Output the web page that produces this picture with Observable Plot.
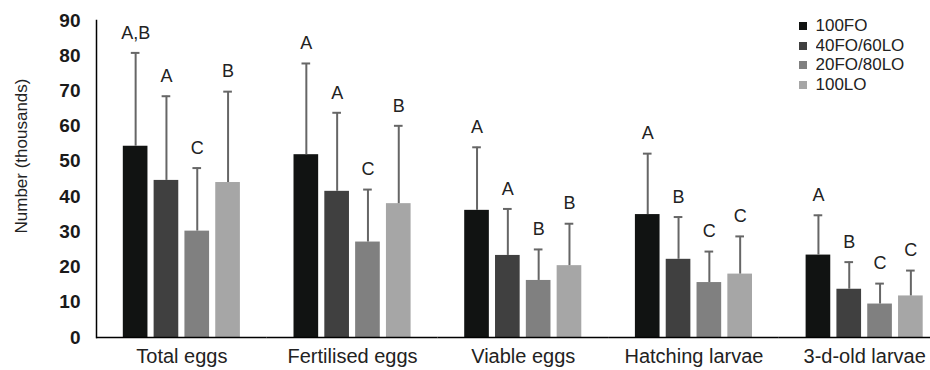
<!DOCTYPE html>
<html>
<head>
<meta charset="utf-8">
<script src="https://cdn.jsdelivr.net/npm/d3@7"></script>
<script src="https://cdn.jsdelivr.net/npm/@observablehq/plot@0.6"></script>
<style>
  html, body { margin: 0; padding: 0; background: #fff; }
  #wrap { position: relative; width: 930px; height: 370px; font-family: "Liberation Sans", Arial, sans-serif; }
  #legend { position: absolute; left: 799px; top: 17px; }
</style>
</head>
<body>
<div id="wrap"><div id="legend"></div></div>
<script>
const groups = ["Total eggs", "Fertilised eggs", "Viable eggs", "Hatching larvae", "3-d-old larvae"];
const series = ["100FO", "40FO/60LO", "20FO/80LO", "100LO"];
const colors = ["#111312", "#404040", "#808080", "#a6a6a6"];

// means (thousands), one array per series, in group order
const mean100FO = [54.3, 51.9, 36.1, 34.9, 23.4];
const mean40FO60LO = [44.6, 41.5, 23.3, 22.2, 13.7];
const mean20FO80LO = [30.2, 27.1, 16.2, 15.6, 9.5];
const mean100LO = [44.0, 38.0, 20.4, 18.0, 11.8];

// standard deviations (upper error bars)
const sd100FO = [26.5, 25.9, 17.9, 17.3, 11.3];
const sd40FO60LO = [23.9, 22.3, 13.2, 12.0, 7.7];
const sd20FO80LO = [17.9, 14.9, 8.8, 8.8, 5.8];
const sd100LO = [25.8, 22.1, 11.9, 10.7, 7.2];

// significance letters
const let100FO = ["A,B", "A", "A", "A", "A"];
const let40FO60LO = ["A", "A", "A", "B", "B"];
const let20FO80LO = ["C", "C", "B", "C", "C"];
const let100LO = ["B", "B", "B", "C", "C"];

const means = [mean100FO, mean40FO60LO, mean20FO80LO, mean100LO];
const sds = [sd100FO, sd40FO60LO, sd20FO80LO, sd100LO];
const letters = [let100FO, let40FO60LO, let20FO80LO, let100LO];

const data = [];
groups.forEach((g, gi) => {
  series.forEach((s, si) => {
    const m = means[si][gi];
    data.push({group: g, series: s, mean: m, top: m + sds[si][gi], letter: letters[si][gi]});
  });
});

const font = "'Liberation Sans', Arial, sans-serif";

const chart = Plot.plot({
  width: 930,
  height: 370,
  marginLeft: 96,
  marginRight: 0,
  marginTop: 20,
  marginBottom: 33,
  style: {fontFamily: font, background: "white", color: "#222"},
  fx: {domain: groups, range: [96, 949.5], padding: 0, round: false, label: null},
  x: {domain: series, paddingInner: 0.2, paddingOuter: 0.87, round: false, axis: null},
  y: {domain: [0, 90], label: null},
  color: {domain: series, range: colors},
  marks: [
    Plot.axisY({ticks: [0,10,20,30,40,50,60,70,80,90], tickSize: 0, tickPadding: 16, fontSize: 19, fontWeight: "bold", fill: "#1a1a1a", label: null}),
    Plot.text(["Number (thousands)"], {frameAnchor: "left", textAnchor: "middle", dx: -75, dy: -23, rotate: -90, fontSize: 17, fill: "#222", facetAnchor: "left"}),
    Plot.axisFx({anchor: "bottom", tickSize: 0, tickPadding: 11, fontSize: 20, fill: "#222", label: null}),
    Plot.barY(data, {fx: "group", x: "series", y: "mean", fill: "series"}),
    Plot.ruleX(data, {fx: "group", x: "series", y1: "mean", y2: "top", stroke: "#666", strokeWidth: 2}),
    Plot.tickY(data, {fx: "group", x: "series", y: "top", stroke: "#666", strokeWidth: 2, insetLeft: 8, insetRight: 8}),
    Plot.text(data, {fx: "group", x: "series", y: "top", text: "letter", dy: -20, fontSize: 18, fill: "#222"}),
    Plot.ruleY([0], {stroke: "black", strokeWidth: 1.5}),
    Plot.frame({anchor: "left", facetAnchor: "left", stroke: "black", strokeWidth: 1.5})
  ]
});

document.getElementById("wrap").prepend(chart);

const legend = Plot.legend({
  color: {domain: series, range: colors},
  legend: "swatches",
  columns: 1,
  swatchSize: 8,
  style: {fontFamily: font, fontSize: "17px", color: "#222", lineHeight: "18.5px"}
});
document.getElementById("legend").appendChild(legend);
</script>
</body>
</html>
